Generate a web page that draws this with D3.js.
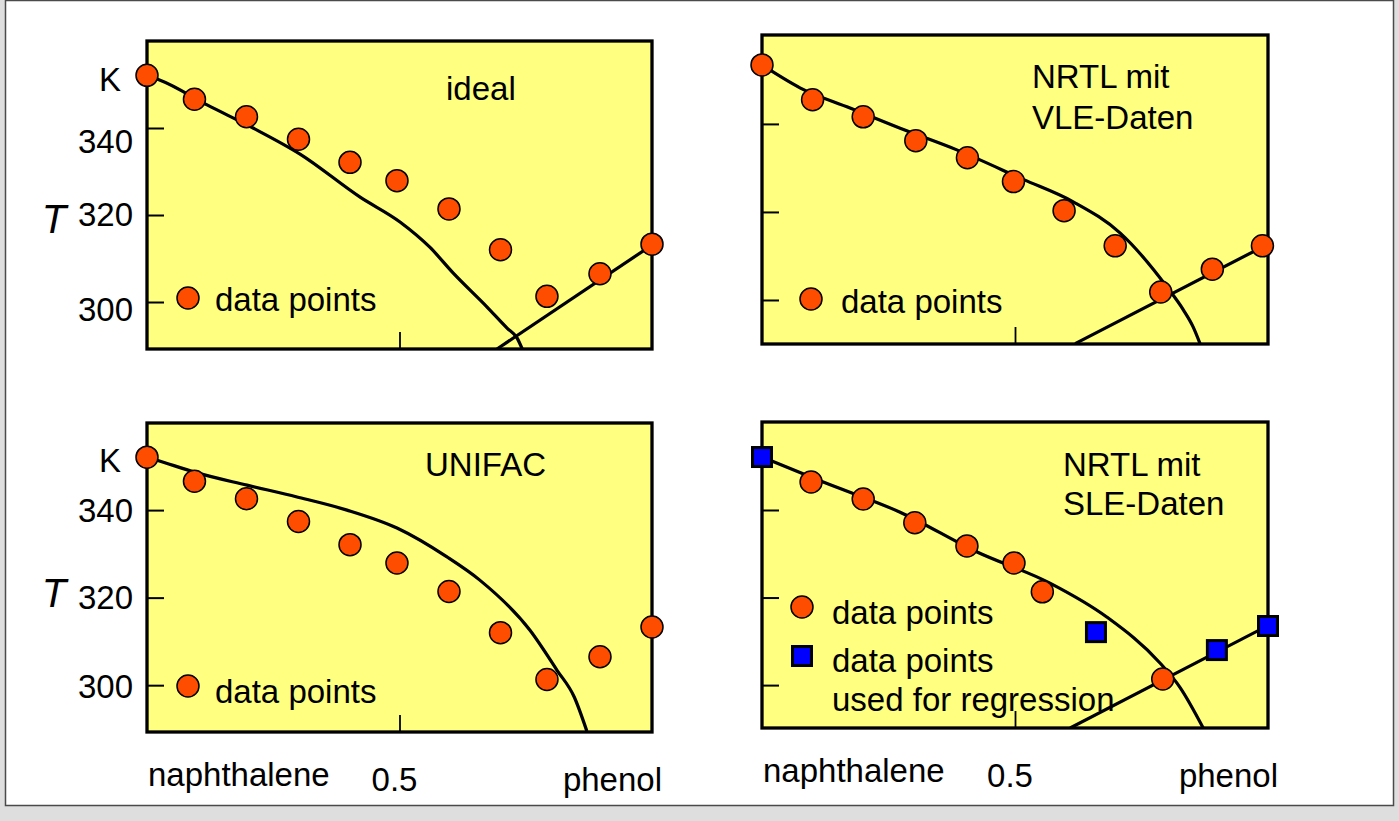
<!DOCTYPE html>
<html>
<head>
<meta charset="utf-8">
<script src="https://cdn.jsdelivr.net/npm/d3@7"></script>
<style>
  body { margin: 0; background: #dedede; }
  svg { display: block; font-family: "Liberation Sans", Arial, sans-serif; }
</style>
</head>
<body>
<svg></svg>
<script>
// x = mole fraction of phenol, T in K
const yTicks = [300, 320, 340];
const xTicks = [0.5];
const xLabels = ["naphthalene", "0.5", "phenol"];

// measured SLE points (panels ideal / UNIFAC)
const expX = [0, 0.094, 0.197, 0.3, 0.402, 0.495, 0.598, 0.7, 0.792, 0.897, 1.0];
const expT = [352.1, 346.6, 342.6, 337.4, 332.1, 327.9, 321.4, 312.0, 301.3, 306.5, 313.3];

// same points as drawn in the "NRTL mit VLE-Daten" panel
const vleDataX = [0, 0.1, 0.2, 0.304, 0.406, 0.497, 0.597, 0.698, 0.788, 0.89, 0.989];
const vleDataT = [353.4, 345.5, 341.6, 336.2, 332.3, 326.9, 320.3, 312.3, 301.8, 307.0, 312.3];

// "NRTL mit SLE-Daten" panel: circles and regression points (squares)
const sleCircX = [0.097, 0.2, 0.302, 0.405, 0.498, 0.554, 0.792];
const sleCircT = [346.4, 342.5, 337.1, 331.8, 327.9, 321.3, 301.4];
const sleSqX = [0, 0.66, 0.899, 1.0];
const sleSqT = [352.1, 312.1, 308.0, 313.5];

// calculated liquidus curves
const idealX = [0, 0.026, 0.119, 0.21, 0.303, 0.422, 0.501, 0.56, 0.606, 0.673, 0.713, 0.733, 0.743];
const idealT = [352.0, 351.0, 345.3, 340.0, 334.0, 324.1, 318.4, 312.6, 306.7, 298.9, 294.0, 291.7, 289.2];
const idealPhX = [0.693, 1.0];
const idealPhT = [289.2, 313.1];

const vleX = [0, 0.075, 0.174, 0.273, 0.385, 0.516, 0.615, 0.708, 0.8, 0.833, 0.852, 0.866];
const vleT = [353.4, 348.2, 343.6, 339.0, 334.1, 327.4, 322.3, 315.2, 303.0, 297.7, 293.9, 290.0];
const vlePhX = [0.619, 1.0];
const vlePhT = [290.1, 312.7];

const unifacX = [0, 0.02, 0.099, 0.198, 0.297, 0.396, 0.495, 0.594, 0.659, 0.758, 0.812, 0.846, 0.871];
const unifacT = [352.1, 351.4, 348.5, 345.7, 343.0, 340.0, 335.9, 329.3, 324.0, 312.6, 303.4, 297.3, 289.5];

const sleX = [0, 0.121, 0.273, 0.425, 0.569, 0.682, 0.787, 0.826, 0.872];
const sleT = [352.1, 346.4, 339.5, 330.4, 323.3, 315.5, 305.0, 299.5, 290.2];
const slePhX = [0.609, 1.0];
const slePhT = [290.2, 313.6];

const yellow = "#ffff80";
const orange = "#ff4d00";
const blue = "#0000ff";
const FS = 33;

const panels = [
  {
    left: 147, top: 41, width: 505, height: 308, tMin: 289.2, tMax: 360,
    curves: [[idealX, idealT], [idealPhX, idealPhT]],
    circles: [expX, expT], squares: null,
    title: [["ideal", 446, 100]],
    yLabels: true, labelDy: [18.7, 10.7, 25], unitY: 91, symY: 233,
    xLabels: false,
    legend: [["circle", 188, 298, "data points", 215, 311]],
  },
  {
    left: 762, top: 35, width: 506, height: 309, tMin: 290, tMax: 360.2,
    curves: [[vleX, vleT], [vlePhX, vlePhT]],
    circles: [vleDataX, vleDataT], squares: null,
    title: [["NRTL mit", 1032, 88], ["VLE-Daten", 1032, 129]],
    yLabels: false, xLabels: false,
    legend: [["circle", 811, 299, "data points", 841, 313]],
  },
  {
    left: 147, top: 423, width: 505, height: 309, tMin: 289.3, tMax: 359.9,
    curves: [[unifacX, unifacT]],
    circles: [expX, expT], squares: null,
    title: [["UNIFAC", 425, 476]],
    yLabels: true, labelDy: [13, 11.5, 11.5], unitY: 472, symY: 607,
    xLabels: true,
    legend: [["circle", 188, 686, "data points", 215, 703]],
  },
  {
    left: 762, top: 422, width: 506, height: 306, tMin: 290.2, tMax: 360.1,
    curves: [[sleX, sleT], [slePhX, slePhT]],
    circles: [sleCircX, sleCircT], squares: [sleSqX, sleSqT],
    title: [["NRTL mit", 1063, 476], ["SLE-Daten", 1063, 515]],
    yLabels: false, xLabels: true,
    legend: [
      ["circle", 802, 607, "data points", 832, 624],
      ["square", 802, 656, "data points", 832, 672],
      [null, 0, 0, "used for regression", 832, 711],
    ],
  },
];

const svg = d3.select("svg").attr("width", 1399).attr("height", 821);

svg.append("rect")
  .attr("x", 5.5).attr("y", 0.5)
  .attr("width", 1388).attr("height", 805)
  .attr("fill", "#fff")
  .attr("stroke", "#4a4a4a")
  .attr("stroke-width", 1.5);

const R = 11;
const SQ = 19;

const drawCircle = (g, cx, cy) =>
  g.append("circle")
    .attr("cx", cx).attr("cy", cy).attr("r", R)
    .attr("fill", orange).attr("stroke", "#000").attr("stroke-width", 1.5);

const drawSquare = (g, cx, cy) =>
  g.append("rect")
    .attr("x", cx - SQ / 2).attr("y", cy - SQ / 2)
    .attr("width", SQ).attr("height", SQ)
    .attr("fill", blue).attr("stroke", "#000").attr("stroke-width", 3);

panels.forEach((p, i) => {
  const x = d3.scaleLinear().domain([0, 1]).range([p.left, p.left + p.width]);
  const y = d3.scaleLinear().domain([p.tMin, p.tMax]).range([p.top + p.height, p.top]);
  const g = svg.append("g");

  g.append("rect")
    .attr("x", p.left).attr("y", p.top)
    .attr("width", p.width).attr("height", p.height)
    .attr("fill", yellow);

  svg.append("clipPath").attr("id", "clip" + i)
    .append("rect")
    .attr("x", p.left).attr("y", p.top)
    .attr("width", p.width).attr("height", p.height);

  const line = d3.line()
    .x((d) => x(d[0]))
    .y((d) => y(d[1]))
    .curve(d3.curveMonotoneX);

  p.curves.forEach(([cx, ct]) => {
    g.append("path")
      .datum(d3.zip(cx, ct))
      .attr("d", line)
      .attr("fill", "none")
      .attr("stroke", "#000")
      .attr("stroke-width", 3.2)
      .attr("clip-path", `url(#clip${i})`);
  });

  // inward ticks
  g.append("g")
    .attr("transform", `translate(${p.left},0)`)
    .call(d3.axisLeft(y).tickValues(yTicks).tickSize(-17).tickFormat(""))
    .call((a) => a.select(".domain").remove())
    .call((a) => a.selectAll("line").attr("stroke", "#000").attr("stroke-width", 2));

  g.append("g")
    .attr("transform", `translate(0,${p.top + p.height})`)
    .call(d3.axisBottom(x).tickValues(xTicks).tickSize(-17).tickFormat(""))
    .call((a) => a.select(".domain").remove())
    .call((a) => a.selectAll("line").attr("stroke", "#000").attr("stroke-width", 1.8));

  g.append("rect")
    .attr("x", p.left).attr("y", p.top)
    .attr("width", p.width).attr("height", p.height)
    .attr("fill", "none")
    .attr("stroke", "#000")
    .attr("stroke-width", 3.3);

  // markers
  const [mx, mt] = p.circles;
  mx.forEach((v, k) => drawCircle(g, x(v), y(mt[k])));
  if (p.squares) {
    const [sx, st] = p.squares;
    sx.forEach((v, k) => drawSquare(g, x(v), y(st[k])));
  }

  // titles
  p.title.forEach(([txt, tx, ty]) => {
    g.append("text").attr("x", tx).attr("y", ty)
      .attr("font-size", FS).attr("fill", "#000").text(txt);
  });

  // legend
  p.legend.forEach(([kind, sx, sy, txt, tx, ty]) => {
    if (kind === "circle") drawCircle(g, sx, sy);
    if (kind === "square") drawSquare(g, sx, sy);
    g.append("text").attr("x", tx).attr("y", ty)
      .attr("font-size", FS).attr("fill", "#000").text(txt);
  });

  if (p.yLabels) {
    yTicks.forEach((v, k) => {
      g.append("text")
        .attr("x", 133).attr("y", y(v) + p.labelDy[k])
        .attr("text-anchor", "end")
        .attr("font-size", FS).text(v);
    });
    g.append("text").attr("x", 121).attr("y", p.unitY)
      .attr("text-anchor", "end").attr("font-size", FS).text("K");
    g.append("text").attr("x", 54).attr("y", p.symY)
      .attr("text-anchor", "middle").attr("font-size", 40)
      .attr("font-style", "italic").text("T");
  }

  if (p.xLabels) {
    const base = p.top + p.height;
    g.append("text").attr("x", x(0) + 1).attr("y", base + 54)
      .attr("font-size", FS).text(xLabels[0]);
    g.append("text").attr("x", x(0.5) - 5).attr("y", base + 59)
      .attr("text-anchor", "middle").attr("font-size", FS).text(xLabels[1]);
    g.append("text").attr("x", x(1) + 10).attr("y", base + 59)
      .attr("text-anchor", "end").attr("font-size", FS).text(xLabels[2]);
  }
});
</script>
</body>
</html>
